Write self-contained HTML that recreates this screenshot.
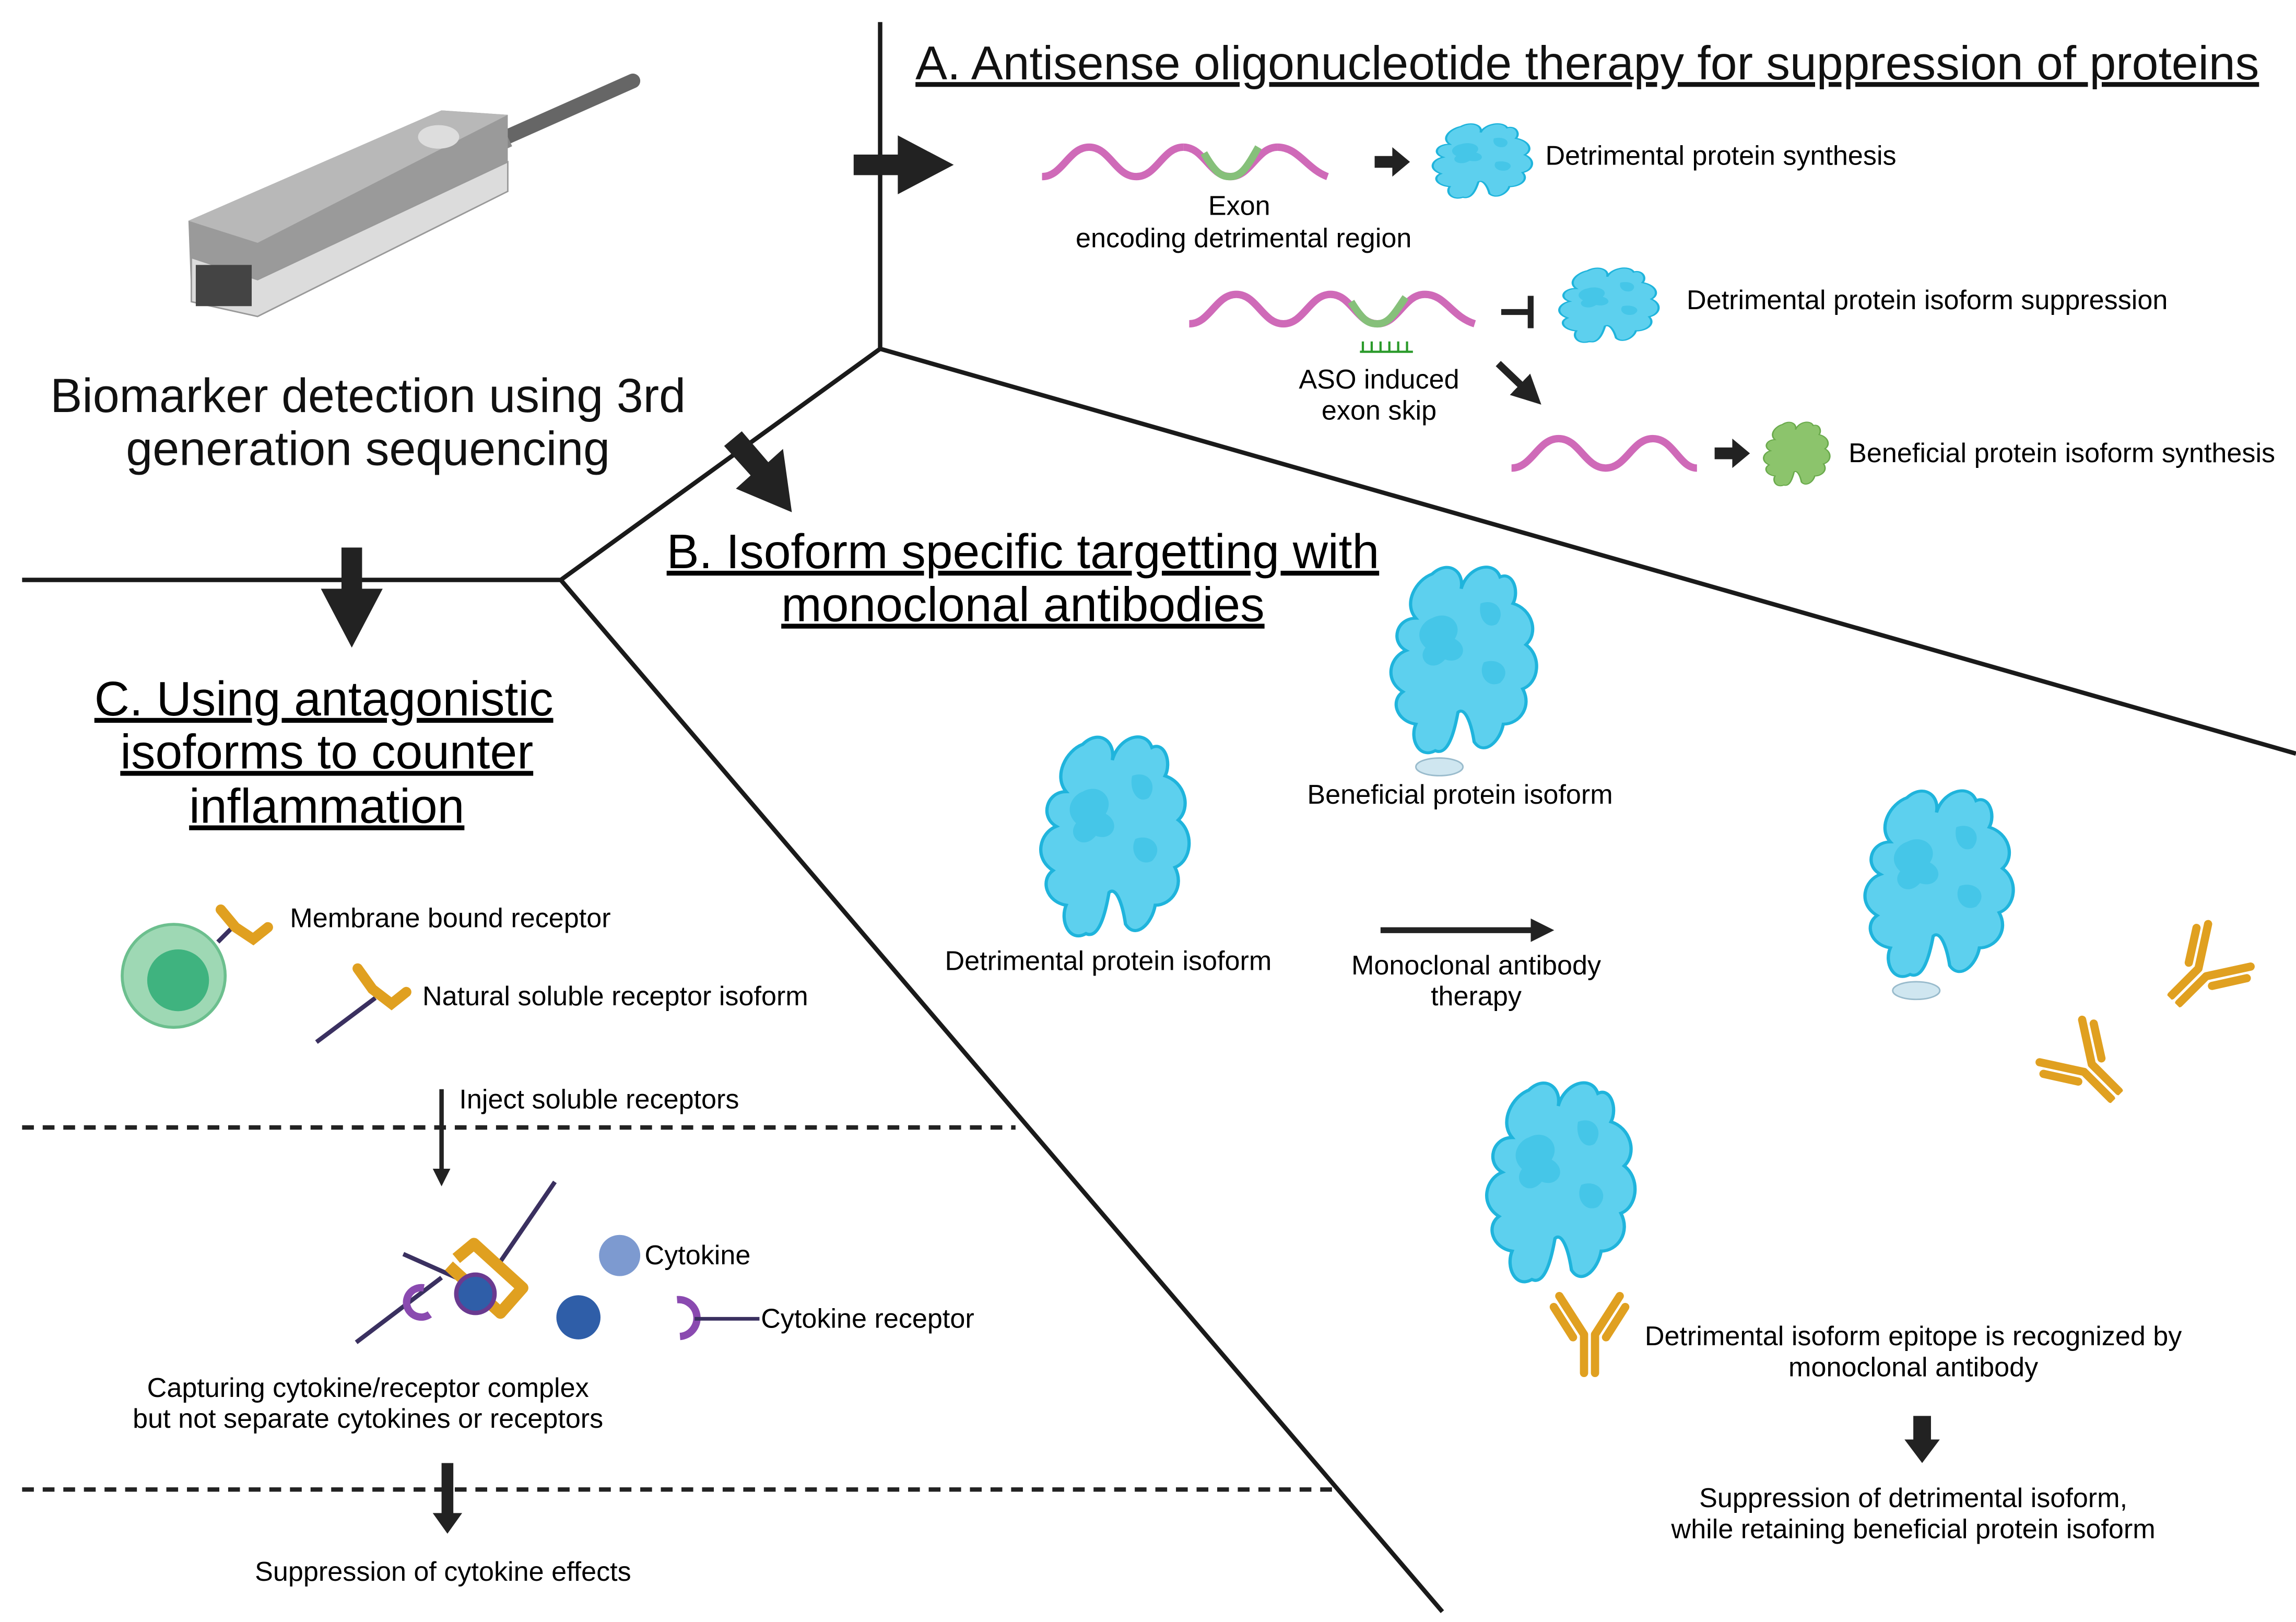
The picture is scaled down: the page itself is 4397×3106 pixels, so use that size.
<!DOCTYPE html>
<html><head><meta charset="utf-8"><style>html,body{margin:0;padding:0;background:#fff}svg{display:block}</style></head>
<body>
<svg xmlns="http://www.w3.org/2000/svg" width="4397" height="3106" viewBox="0 0 1560 1102" font-family="Liberation Sans, sans-serif">
<defs>
<symbol id="prot" viewBox="0 0 100 140" preserveAspectRatio="none">
<path d="M30 10 C40 0 50 8 48 20 C52 5 68 0 72 12 C80 8 84 22 80 30 C92 34 96 50 88 58 C98 66 96 84 86 88 C92 100 84 112 74 112 C72 124 62 134 56 124 C54 110 50 100 46 104 C44 116 40 134 32 130 C22 136 16 122 20 112 C8 110 4 96 12 90 C0 82 4 66 14 62 C4 56 8 40 20 40 C12 30 20 14 30 10 Z" fill="#5dd0ee" stroke="#1fb4dc" stroke-width="2"/>
<path d="M30 40 C40 34 50 44 44 54 C54 60 48 72 38 68 C30 78 20 68 26 60 C18 52 24 42 30 40Z M60 30 C70 26 76 36 70 44 C64 48 58 40 60 30Z M62 70 C72 66 80 76 72 84 C64 88 58 78 62 70Z" fill="#3cc2e6" opacity=".7"/>
</symbol>
<symbol id="protg" viewBox="0 0 100 140" preserveAspectRatio="none">
<path d="M30 10 C40 0 50 8 48 20 C52 5 68 0 72 12 C80 8 84 22 80 30 C92 34 96 50 88 58 C98 66 96 84 86 88 C92 100 84 112 74 112 C72 124 62 134 56 124 C54 110 50 100 46 104 C44 116 40 134 32 130 C22 136 16 122 20 112 C8 110 4 96 12 90 C0 82 4 66 14 62 C4 56 8 40 20 40 C12 30 20 14 30 10 Z" fill="#8cc46c" stroke="#6aaa4c" stroke-width="2"/>
</symbol>
<symbol id="ab" viewBox="0 0 60 70">
<g stroke="#e0a020" stroke-width="6" fill="none" stroke-linecap="round"><path d="M26 40 L26 68 M34 40 L34 68 M26 40 L8 12 M34 40 L52 12 M18 42 L4 20 M42 42 L56 20"/></g>
</symbol>
<marker id="ah" markerWidth="4" markerHeight="4" refX="2" refY="2" orient="auto" markerUnits="strokeWidth"><path d="M0 0L4 2L0 4Z" fill="#222"/></marker>
</defs>

<g stroke="#1a1a1a" stroke-width="3" fill="none">
<path d="M598 15 V237 L1560 512 M598 237 L381 394 H15 M381 394 L980 1095"/>
</g>
<g stroke="#222" stroke-width="3" stroke-dasharray="8 6"><path d="M15 766 H690 M15 1012 H905"/></g>

<!-- sequencer device -->
<path d="M340 95 L430 55" stroke="#666" stroke-width="10" stroke-linecap="round"/>
<path d="M330 100 L345 93" stroke="#888" stroke-width="14"/>
<path d="M128 150 L300 75 L345 78 L345 128 L175 215 L130 205 Z" fill="#9a9a9a"/>
<path d="M128 150 L300 75 L345 78 L175 165 Z" fill="#b8b8b8"/>
<path d="M130 175 L175 190 L345 110 L345 130 L175 215 L130 205 Z" fill="#dcdcdc" stroke="#999"/>
<rect x="133" y="180" width="38" height="28" fill="#444"/>
<ellipse cx="298" cy="93" rx="14" ry="8" fill="#ddd"/>
<text x="250" y="280" font-size="32.5" text-anchor="middle" fill="#111">Biomarker detection using 3rd</text>
<text x="250" y="316" font-size="32.5" text-anchor="middle" fill="#111">generation sequencing</text>

<path d="M580 105 H610 V92 L648 112 L610 132 V119 H580Z" fill="#222"/>
<path d="M492 303 L504 293 L522 314 L532 305 L538 348 L500 332 L510 323Z" fill="#222"/>
<path d="M232 372 H246 V400 H260 L239 440 L218 400 H232Z" fill="#222"/>

<!-- A -->
<text x="622" y="54" font-size="32.4" fill="#111" text-decoration="underline">A. Antisense oligonucleotide therapy for suppression of proteins</text>
<path d="M708 120 C722 120 726 100 740 100 C754 100 758 120 772 120 C786 120 790 100 804 100" stroke="#cf6ab8" stroke-width="5" fill="none"/>
<path d="M804 100 C818 100 822 120 836 120 C850 120 854 100 868 100" stroke="#cf6ab8" stroke-width="5" fill="none"/>
<path d="M818 104 C826 118 830 120 836 120 C844 120 848 112 855 100" stroke="#86c07a" stroke-width="5" fill="none"/>
<path d="M868 100 C882 100 888 115 902 120" stroke="#cf6ab8" stroke-width="5" fill="none"/>
<text x="842" y="146" font-size="18.5" text-anchor="middle">Exon</text>
<text x="845" y="168" font-size="18.5" text-anchor="middle">encoding detrimental region</text>
<path d="M934 106 H946 V100 L958 110 L946 120 V114 H934Z" fill="#222"/>
<use href="#prot" x="970" y="82" width="75" height="56"/>
<text x="1050" y="112" font-size="18.5">Detrimental protein synthesis</text>

<path d="M808 220 C822 220 826 200 840 200 C854 200 858 220 872 220 C886 220 890 200 904 200 C918 200 922 220 936 220 C950 220 954 200 968 200 C982 200 986 215 1002 220" stroke="#cf6ab8" stroke-width="5" fill="none"/>
<path d="M918 205 C926 218 930 220 936 220 C944 220 948 212 955 202" stroke="#86c07a" stroke-width="5" fill="none"/>
<path d="M924 239 H960 M926 239 V232 M932 239 V232 M938 239 V232 M944 239 V232 M950 239 V232 M956 239 V232" stroke="#2a9a2a" stroke-width="1.5"/>
<path d="M1020 212 H1040 M1040 201 V223" stroke="#222" stroke-width="4"/>
<use href="#prot" x="1056" y="180" width="75" height="56"/>
<text x="1146" y="210" font-size="18.5">Detrimental protein isoform suppression</text>
<text x="937" y="264" font-size="18.5" text-anchor="middle">ASO induced</text>
<text x="937" y="285" font-size="18.5" text-anchor="middle">exon skip</text>
<path d="M1018 247 L1040 268" stroke="#222" stroke-width="5" marker-end="url(#ah)"/>
<path d="M1027 318 C1041 318 1045 298 1059 298 C1073 298 1077 318 1091 318 C1105 318 1109 298 1123 298 C1137 298 1141 318 1153 318" stroke="#cf6ab8" stroke-width="5" fill="none"/>
<path d="M1165 304 H1177 V298 L1189 308 L1177 318 V312 H1165Z" fill="#222"/>
<use href="#protg" x="1196" y="285" width="50" height="48"/>
<text x="1256" y="314" font-size="18.5">Beneficial protein isoform synthesis</text>

<!-- B -->
<text x="695" y="386" font-size="33" text-anchor="middle" text-decoration="underline">B. Isoform specific targetting with</text>
<text x="695" y="422" font-size="33" text-anchor="middle" text-decoration="underline">monoclonal antibodies</text>
<use href="#prot" x="940" y="380" width="110" height="140"/>
<ellipse cx="978" cy="521" rx="16" ry="6" fill="#cfe6f0" stroke="#9bc"/>
<text x="992" y="546" font-size="18.5" text-anchor="middle">Beneficial protein isoform</text>
<use href="#prot" x="702" y="495" width="112" height="150"/>
<text x="753" y="659" font-size="18.5" text-anchor="middle">Detrimental protein isoform</text>
<path d="M938 632 H1048" stroke="#222" stroke-width="4" marker-end="url(#ah)"/>
<text x="1003" y="662" font-size="18.5" text-anchor="middle">Monoclonal antibody</text>
<text x="1003" y="683" font-size="18.5" text-anchor="middle">therapy</text>
<use href="#prot" x="1262" y="532" width="112" height="140"/>
<ellipse cx="1302" cy="673" rx="16" ry="6" fill="#cfe6f0" stroke="#9bc"/>
<use href="#ab" x="1470" y="625" width="60" height="65" transform="rotate(45 1500 657)"/>
<use href="#ab" x="1385" y="690" width="60" height="65" transform="rotate(-45 1415 722)"/>
<use href="#prot" x="1005" y="730" width="112" height="150"/>
<use href="#ab" x="1052" y="868" width="56" height="68"/>
<text x="1300" y="914" font-size="18.5" text-anchor="middle">Detrimental isoform epitope is recognized by</text>
<text x="1300" y="935" font-size="18.5" text-anchor="middle">monoclonal antibody</text>
<path d="M1300 962 H1312 V978 H1318 L1306 994 L1294 978 H1300Z" fill="#222"/>
<text x="1300" y="1024" font-size="18.5" text-anchor="middle">Suppression of detrimental isoform,</text>
<text x="1300" y="1045" font-size="18.5" text-anchor="middle">while retaining beneficial protein isoform</text>

<!-- C -->
<text x="220" y="486" font-size="33" text-anchor="middle" text-decoration="underline">C. Using antagonistic</text>
<text x="222" y="522" font-size="33" text-anchor="middle" text-decoration="underline">isoforms to counter</text>
<text x="222" y="559" font-size="33" text-anchor="middle" text-decoration="underline">inflammation</text>
<circle cx="118" cy="663" r="35" fill="#9ed8b4" stroke="#6cbf8e" stroke-width="2"/>
<circle cx="121" cy="666" r="21" fill="#3fb37f"/>
<path d="M148 640 L158 630" stroke="#3a3060" stroke-width="3"/>
<path d="M150 618 L160 630 L172 638 L182 630" stroke="#e0a020" stroke-width="7" fill="none" stroke-linecap="round"/>
<text x="197" y="630" font-size="18.5">Membrane bound receptor</text>
<path d="M215 708 L255 678" stroke="#3a3060" stroke-width="3"/>
<path d="M243 658 L253 672 L266 682 L276 674" stroke="#e0a020" stroke-width="7" fill="none" stroke-linecap="round"/>
<text x="287" y="683" font-size="18.5">Natural soluble receptor isoform</text>
<path d="M300 740 V800" stroke="#222" stroke-width="3" marker-end="url(#ah)"/>
<text x="312" y="753" font-size="18.5">Inject soluble receptors</text>
<path d="M242 912 L300 868 M338 860 L377 803 M274 852 L310 868" stroke="#3a3060" stroke-width="3"/>
<path d="M310 855 L322 845 L355 875 L340 892 L305 860" stroke="#e0a020" stroke-width="8" fill="none" stroke-linejoin="round"/>
<circle cx="323" cy="879" r="13" fill="#2f5ea8" stroke="#6a3a90" stroke-width="3"/>
<path d="M288 875 A10 10 0 1 0 292 893" stroke="#8a4ab0" stroke-width="5" fill="none"/>
<circle cx="393" cy="895" r="15" fill="#2f5ea8"/>
<circle cx="421" cy="853" r="14" fill="#7d9ad0"/>
<text x="438" y="859" font-size="18.5">Cytokine</text>
<path d="M460 883 A10 10 0 1 1 462 908" stroke="#8a4ab0" stroke-width="5" fill="none"/>
<path d="M472 896 H516" stroke="#3a3060" stroke-width="2.5"/>
<text x="517" y="902" font-size="18.5">Cytokine receptor</text>
<text x="250" y="949" font-size="18.5" text-anchor="middle">Capturing cytokine/receptor complex</text>
<text x="250" y="970" font-size="18.5" text-anchor="middle">but not separate cytokines or receptors</text>
<path d="M300 994 H308 V1028 L314 1028 L304 1042 L294 1028 L300 1028Z" fill="#222"/>
<text x="301" y="1074" font-size="18.5" text-anchor="middle">Suppression of cytokine effects</text>
</svg>
</body></html>
